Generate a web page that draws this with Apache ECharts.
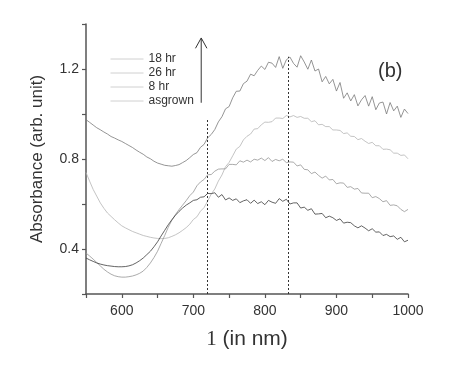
<!DOCTYPE html>
<html>
<head>
<meta charset="utf-8">
<script src="https://cdn.jsdelivr.net/npm/echarts@6/dist/echarts.min.js"></script>
<style>html,body{margin:0;padding:0;background:#fff;}#c{width:450px;height:377px;}</style>
</head>
<body>
<div id="c"></div>
<script>
// wavelength grid (nm)
var startNm = 550, stepNm = 5;
var seriesNames = ['18 hr', '26 hr', '8 hr', 'asgrown'];
var hr18 = [0.975,0.963,0.951,0.939,0.930,0.920,0.911,0.900,0.893,0.885,
0.878,0.869,0.860,0.851,0.840,0.830,0.821,0.809,0.801,0.790,
0.782,0.777,0.772,0.770,0.768,0.771,0.775,0.784,0.793,0.806,
0.820,0.828,0.852,0.865,0.894,0.909,0.931,0.965,0.988,1.023,
1.033,1.072,1.101,1.102,1.135,1.146,1.177,1.170,1.194,1.213,
1.198,1.230,1.226,1.207,1.255,1.203,1.241,1.253,1.225,1.208,
1.259,1.231,1.199,1.240,1.191,1.200,1.143,1.167,1.134,1.154,
1.102,1.140,1.070,1.094,1.058,1.086,1.036,1.063,1.082,1.035,
1.077,1.019,1.049,1.053,1.000,1.051,1.014,1.035,0.985,1.022,
1.002];
var hr26 = [0.740,0.702,0.665,0.635,0.605,0.581,0.560,0.545,0.530,0.516,
0.503,0.494,0.486,0.478,0.472,0.466,0.460,0.456,0.452,0.449,
0.447,0.446,0.447,0.450,0.456,0.463,0.472,0.483,0.495,0.510,
0.531,0.543,0.568,0.584,0.613,0.644,0.667,0.702,0.729,0.766,
0.785,0.814,0.844,0.856,0.885,0.901,0.911,0.933,0.935,0.952,
0.964,0.963,0.966,0.982,0.982,0.980,0.993,0.987,0.993,0.985,
0.989,0.981,0.981,0.966,0.970,0.952,0.954,0.944,0.944,0.929,
0.929,0.927,0.913,0.916,0.901,0.900,0.886,0.891,0.879,0.869,
0.874,0.859,0.859,0.843,0.844,0.841,0.826,0.826,0.816,0.818,
0.801];
var hr8 = [0.382,0.369,0.355,0.340,0.325,0.310,0.298,0.288,0.281,0.277,
0.275,0.275,0.277,0.280,0.285,0.292,0.302,0.318,0.338,0.362,
0.390,0.425,0.460,0.497,0.528,0.553,0.575,0.595,0.615,0.637,
0.653,0.681,0.698,0.709,0.730,0.731,0.746,0.755,0.756,0.756,
0.776,0.776,0.774,0.792,0.786,0.795,0.787,0.799,0.795,0.804,
0.793,0.806,0.789,0.798,0.792,0.799,0.784,0.787,0.786,0.769,
0.774,0.754,0.752,0.735,0.742,0.727,0.715,0.724,0.707,0.709,
0.690,0.694,0.693,0.674,0.677,0.666,0.669,0.649,0.648,0.648,
0.628,0.633,0.624,0.610,0.615,0.594,0.596,0.592,0.576,0.566,
0.576];
var asgrown = [0.360,0.352,0.345,0.338,0.333,0.329,0.326,0.324,0.322,0.321,
0.321,0.322,0.325,0.330,0.338,0.348,0.360,0.375,0.390,0.410,
0.432,0.458,0.483,0.508,0.530,0.550,0.567,0.582,0.595,0.605,
0.616,0.619,0.630,0.632,0.647,0.646,0.650,0.630,0.642,0.618,
0.627,0.616,0.623,0.606,0.614,0.619,0.603,0.617,0.602,0.610,
0.597,0.616,0.608,0.603,0.624,0.612,0.621,0.600,0.605,0.605,
0.582,0.586,0.572,0.579,0.555,0.556,0.558,0.539,0.546,0.539,
0.527,0.534,0.515,0.519,0.517,0.503,0.494,0.503,0.493,0.481,
0.490,0.475,0.476,0.460,0.465,0.455,0.458,0.443,0.452,0.432,
0.439];
var seriesColors = ['#7a7a7a', '#b5b5b5', '#959595', '#3c3c3c'];
// annotations
var peakLines = [[720, 0.98], [833, 1.255]];
var arrowShaft = [[711, 1.05], [711, 1.335]];
var arrowHead = [[703, 1.292], [711, 1.338], [719, 1.292]];
var yLabels = [0.4, 0.8, 1.2];

function pairs(vals) {
  var out = [];
  for (var i = 0; i < vals.length; i++) out.push([startNm + i * stepNm, vals[i]]);
  return out;
}
var allVals = [hr18, hr26, hr8, asgrown];
var series = allVals.map(function (v, k) {
  return {
    name: seriesNames[k], type: 'line', data: pairs(v), symbol: 'none',
    lineStyle: { color: seriesColors[k], width: 0.8 }, itemStyle: { color: seriesColors[k] },
    animation: false, silent: true, z: 3
  };
});
series[0].markLine = {
  silent: true, symbol: ['none', 'none'], animation: false,
  label: { show: false },
  lineStyle: { color: '#333', type: [2, 2], width: 1 },
  data: peakLines.map(function (p) { return [{ coord: [p[0], 0.2] }, { coord: [p[0], p[1]] }]; })
};
series.push({ type: 'line', data: arrowShaft, symbol: 'none', lineStyle: { color: '#333', width: 1 }, animation: false, silent: true });
series.push({ type: 'line', data: arrowHead, symbol: 'none', lineStyle: { color: '#333', width: 1 }, animation: false, silent: true });

var chart = echarts.init(document.getElementById('c'), null, { renderer: 'canvas' });
chart.setOption({
  backgroundColor: '#fff',
  animation: false,
  textStyle: { fontFamily: 'Liberation Sans, Arial, sans-serif' },
  grid: { left: 86, right: 42, top: 24, bottom: 83 },
  legend: {
    orient: 'vertical', left: 105, top: 48, itemWidth: 33, itemHeight: 14, itemGap: 2,
    itemStyle: { opacity: 0 },
    textStyle: { fontSize: 12, color: '#333', fontFamily: 'Liberation Sans, Arial, sans-serif' },
    data: seriesNames.map(function (n) { return { name: n, itemStyle: { opacity: 0 }, lineStyle: { color: '#d0d0d0', width: 1, opacity: 1 } }; })
  },
  xAxis: {
    type: 'value', min: 550, max: 1000, interval: 50,
    axisLine: { lineStyle: { color: '#555', width: 1.5 } },
    axisTick: { length: 4, lineStyle: { color: '#555', width: 1.2 } },
    splitLine: { show: false },
    axisLabel: { fontSize: 14, color: '#333', margin: 10, formatter: function (v) { return v % 100 === 0 && v >= 600 ? String(v) : ''; } },
    name: '{l|1} (in nm)', nameLocation: 'middle', nameGap: 35,
    nameTextStyle: { fontSize: 21, color: '#333', rich: { l: { fontSize: 21, fontFamily: 'Liberation Serif, serif', color: '#333' } } }
  },
  yAxis: {
    type: 'value', min: 0.2, max: 1.4, interval: 0.2,
    axisLine: { show: true, lineStyle: { color: '#555', width: 1.5 } },
    axisTick: { show: true, length: 4, lineStyle: { color: '#555', width: 1.2 } },
    splitLine: { show: false },
    axisLabel: { fontSize: 14, color: '#333', margin: 7, formatter: function (v) {
      for (var i = 0; i < yLabels.length; i++) if (Math.abs(v - yLabels[i]) < 1e-6) return yLabels[i].toFixed(1);
      return '';
    } },
    name: 'Absorbance (arb. unit)', nameLocation: 'middle', nameGap: 40,
    nameTextStyle: { fontSize: 17, color: '#333' }
  },
  graphic: [{ type: 'text', left: 378, top: 61, style: { text: '(b)', fontSize: 20, fill: '#333', fontFamily: 'Liberation Sans, Arial, sans-serif' } }],
  series: series
});
</script>
</body>
</html>
